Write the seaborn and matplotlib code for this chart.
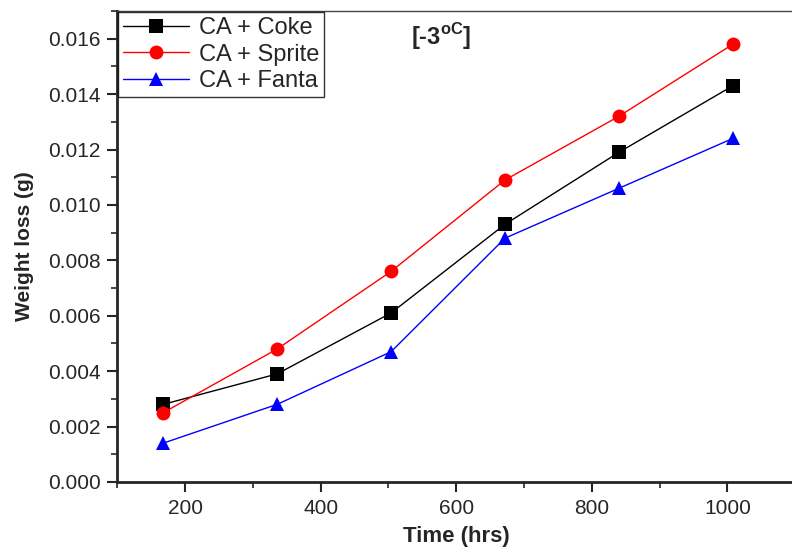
import numpy as np
import pandas as pd
import seaborn as sns
import matplotlib.pyplot as plt
from matplotlib.ticker import MultipleLocator

# Data
time_hrs = [168, 336, 504, 672, 840, 1008]
coke = [0.0028, 0.0039, 0.0061, 0.0093, 0.0119, 0.0143]
sprite = [0.0025, 0.0048, 0.0076, 0.0109, 0.0132, 0.0158]
fanta = [0.0014, 0.0028, 0.0047, 0.0088, 0.0106, 0.0124]
series_names = ['CA + Coke', 'CA + Sprite', 'CA + Fanta']

df = pd.DataFrame({
    'time': time_hrs * 3,
    'loss': coke + sprite + fanta,
    'series': [s for s in series_names for _ in time_hrs],
})

sns.set_style('ticks')
plt.rcParams['font.family'] = ['Liberation Sans', 'DejaVu Sans']
plt.rcParams['mathtext.fontset'] = 'custom'
plt.rcParams['mathtext.rm'] = 'Liberation Sans'
plt.rcParams['mathtext.bf'] = 'Liberation Sans:bold'

fig = plt.figure(figsize=(7.92, 5.52), dpi=100)
ax = fig.add_axes([0.148, 0.127, 0.856, 0.853])

palette = {'CA + Coke': 'black', 'CA + Sprite': 'red', 'CA + Fanta': 'blue'}
markers = {'CA + Coke': 's', 'CA + Sprite': 'o', 'CA + Fanta': '^'}
sns.lineplot(data=df, x='time', y='loss', hue='series', style='series',
             palette=palette, markers=markers, dashes=False, linewidth=1,
             markersize=10, markeredgewidth=0, ax=ax)

ax.set_xlim(100, 1100)
ax.set_ylim(0, 0.017)
ax.xaxis.set_major_locator(MultipleLocator(200))
ax.xaxis.set_minor_locator(MultipleLocator(100))
ax.yaxis.set_major_locator(MultipleLocator(0.002))
ax.yaxis.set_minor_locator(MultipleLocator(0.001))
ax.yaxis.set_major_formatter(plt.FormatStrFormatter('%.3f'))
ax.tick_params(which='major', direction='out', length=7, width=1.5, labelsize=15, pad=5)
ax.tick_params(which='minor', direction='out', length=4, width=1.2)

for side in ['left', 'bottom']:
    ax.spines[side].set_linewidth(2)
for side in ['top', 'right']:
    ax.spines[side].set_linewidth(1)
    ax.spines[side].set_color('#444444')

ax.set_xlabel('Time (hrs)', fontsize=16, fontweight='bold', labelpad=6)
ax.set_ylabel('Weight loss (g)', fontsize=15, fontweight='bold', labelpad=10)

ax.text(0.478, 0.945, r'[-3$^{\mathbf{oC}}$]', transform=ax.transAxes,
        fontsize=17, fontweight='bold', ha='center', va='center')

leg = ax.legend(loc='upper left', bbox_to_anchor=(0.0, 1.0), fontsize=17,
                frameon=True, fancybox=False, edgecolor='black',
                borderpad=0.2, labelspacing=0.2, handlelength=2.8,
                handletextpad=0.4, borderaxespad=0.05)
leg.get_frame().set_linewidth(1)
for h in leg.legend_handles:
    h.set_linewidth(1)

fig.savefig('out.png', dpi=100)
